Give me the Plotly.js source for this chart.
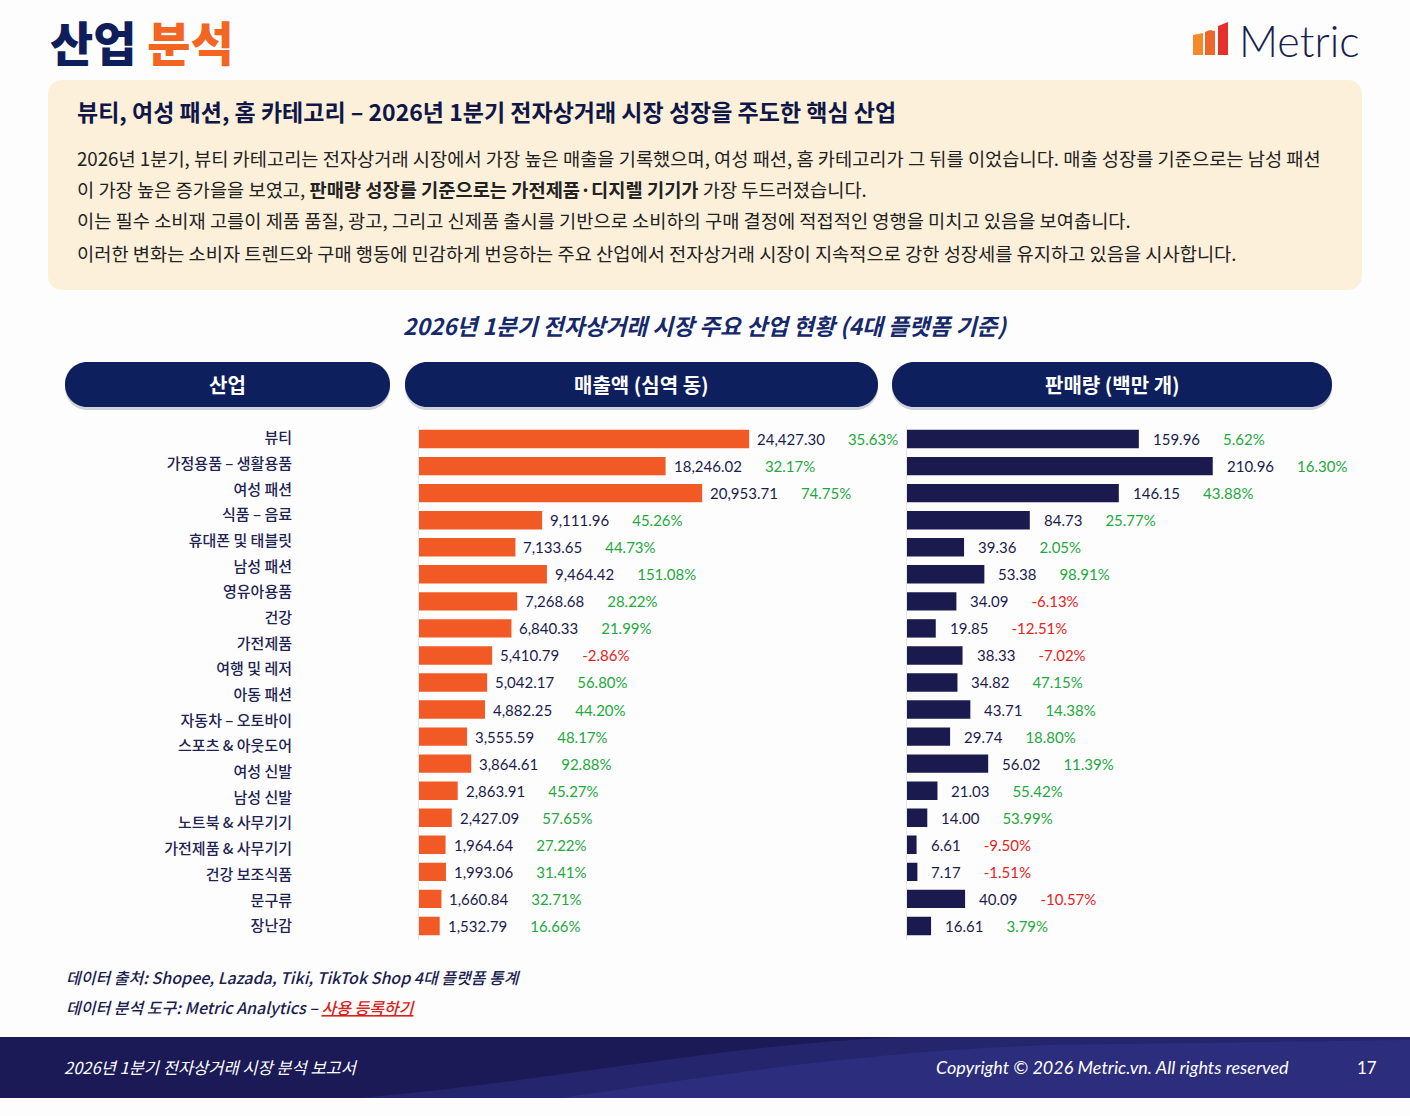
<!DOCTYPE html>
<html>
<head>
<meta charset="utf-8">
<script src="https://cdn.plot.ly/plotly-3.0.1.min.js"></script>
<style>
  html, body { margin: 0; padding: 0; background: #fdfdfd; }
  #chart { width: 1410px; height: 1116px; }
</style>
</head>
<body>
<div id="chart"></div>
<script>
// ---- data ----
const industries = [
  '뷰티', '가정용품 – 생활용품', '여성 패션', '식품 – 음료', '휴대폰 및 태블릿',
  '남성 패션', '영유아용품', '건강', '가전제품', '여행 및 레저',
  '아동 패션', '자동차 – 오토바이', '스포츠 & 아웃도어', '여성 신발', '남성 신발',
  '노트북 & 사무기기', '가전제품 & 사무기기', '건강 보조식품', '문구류', '장난감'
];
const revenue = [24427.30, 18246.02, 20953.71, 9111.96, 7133.65, 9464.42, 7268.68, 6840.33, 5410.79, 5042.17,
                 4882.25, 3555.59, 3864.61, 2863.91, 2427.09, 1964.64, 1993.06, 1660.84, 1532.79];
const revenueGrowth = [35.63, 32.17, 74.75, 45.26, 44.73, 151.08, 28.22, 21.99, -2.86, 56.80,
                       44.20, 48.17, 92.88, 45.27, 57.65, 27.22, 31.41, 32.71, 16.66];
const volume = [159.96, 210.96, 146.15, 84.73, 39.36, 53.38, 34.09, 19.85, 38.33, 34.82,
                43.71, 29.74, 56.02, 21.03, 14.00, 6.61, 7.17, 40.09, 16.61];
const volumeGrowth = [5.62, 16.30, 43.88, 25.77, 2.05, 98.91, -6.13, -12.51, -7.02, 47.15,
                      14.38, 18.80, 11.39, 55.42, 53.99, -9.50, -1.51, -10.57, 3.79];
const columnHeaders = ['산업', '매출액 (심역 동)', '판매량 (백만 개)'];
const summaryTitle = '뷰티, 여성 패션, 홈 카테고리 – 2026년 1분기 전자상거래 시장 성장을 주도한 핵심 산업';
const summaryLines = [
  '2026년 1분기, 뷰티 카테고리는 전자상거래 시장에서 가장 높은 매출을 기록했으며, 여성 패션, 홈 카테고리가 그 뒤를 이었습니다. 매출 성장를 기준으로는 남성 패션',
  '이 가장 높은 증가을을 보였고, <b>판매량 성장를 기준으로는 가전제품·디지렐 기기가</b> 가장 두드러졌습니다.',
  '이는 필수 소비재 고를이 제품 품질, 광고, 그리고 신제품 출시를 기반으로 소비하의 구매 결정에 적접적인 영행을 미치고 있음을 보여춥니다.',
  '이러한 변화는 소비자 트렌드와 구매 행동에 민감하게 번응하는 주요 산업에서 전자상거래 시장이 지속적으로 강한 성장세를 유지하고 있음을 시사합니다.'
];
const chartTitle = '2026년 1분기 전자상거래 시장 주요 산업 현황 (4대 플랫폼 기준)';

// ---- page geometry helpers (pixel -> paper) ----
const W = 1410, H = 1116;
const px = x => x / W;
const py = y => 1 - y / H;
const P = (x, y) => `${px(x).toFixed(5)},${py(y).toFixed(5)}`;

function roundRect(x0, y0, x1, y1, r) {
  const k = 0.5523 * r;
  return `M${P(x0 + r, y0)} L${P(x1 - r, y0)} C${P(x1 - r + k, y0)} ${P(x1, y0 + r - k)} ${P(x1, y0 + r)} ` +
         `L${P(x1, y1 - r)} C${P(x1, y1 - r + k)} ${P(x1 - r + k, y1)} ${P(x1 - r, y1)} ` +
         `L${P(x0 + r, y1)} C${P(x0 + r - k, y1)} ${P(x0, y1 - r + k)} ${P(x0, y1 - r)} ` +
         `L${P(x0, y0 + r)} C${P(x0, y0 + r - k)} ${P(x0 + r - k, y0)} ${P(x0 + r, y0)} Z`;
}
function pathShape(path, fill, extra) {
  return Object.assign({ type: 'path', xref: 'paper', yref: 'paper', path, fillcolor: fill, line: { width: 0 }, layer: 'below' }, extra || {});
}
function note(x, y, text, font, anchor) {
  return { xref: 'paper', yref: 'paper', x: px(x), y: py(y), text, showarrow: false,
           xanchor: anchor || 'left', yanchor: 'middle', font, borderpad: 0 };
}

const KR = 'Noto Sans CJK KR, Noto Sans, sans-serif';
const NUM = 'Lato, Noto Sans CJK KR, sans-serif';
const NAVY = '#0d1f5c';
const GREEN = '#1fa83d';
const RED = '#e8221c';
const GAP = '\u00a0'.repeat(6);

const fmtRevenue = v => v.toLocaleString('en-US', { minimumFractionDigits: 2, maximumFractionDigits: 2 });
const fmtVolume = v => v.toFixed(2);
const pctSpan = g => `<span style="color:${g >= 0 ? GREEN : RED}">${g.toFixed(2)}%</span>`;

const rowIndex = revenue.map((_, i) => i);

// ---- traces ----
const traces = [
  {
    type: 'bar', orientation: 'h', x: revenue, y: rowIndex, xaxis: 'x', yaxis: 'y',
    marker: { color: '#f15a24' }, hoverinfo: 'skip'
  },
  {
    type: 'bar', orientation: 'h', x: volume, y: rowIndex, xaxis: 'x2', yaxis: 'y2',
    marker: { color: '#1b1a4f' }, hoverinfo: 'skip'
  },
  { type: 'scatter', x: [], y: [], xaxis: 'x3', yaxis: 'y3', hoverinfo: 'skip' }
];

// ---- shapes ----
const shapes = [];
// summary box
shapes.push(pathShape(roundRect(48, 80, 1362, 290, 14), '#fdf0db'));
// column header pills
const pills = [[65, 390], [405, 878], [892, 1332]];
pills.forEach(([a, b]) => {
  shapes.push(pathShape(roundRect(a, 364, b, 410, 22), 'rgba(10,20,60,0.18)'));
  shapes.push(pathShape(roundRect(a, 362, b, 407, 22), NAVY));
});
// logo bars
shapes.push(pathShape(`M${P(1193, 55)} L${P(1193, 35)} L${P(1203, 33)} L${P(1203, 55)} Z`, '#f4892b'));
shapes.push(pathShape(`M${P(1205, 55)} L${P(1205, 32)} L${P(1210, 30)} L${P(1215, 31)} L${P(1215, 55)} Z`, '#ef662b'));
shapes.push(pathShape(`M${P(1218, 55)} L${P(1218, 26)} L${P(1228, 22)} L${P(1228, 55)} Z`, '#e5312d'));
// footer band
shapes.push({ type: 'rect', xref: 'paper', yref: 'paper', x0: 0, x1: 1, y0: py(1098), y1: py(1037),
              fillcolor: '#1b1a57', line: { width: 0 }, layer: 'below' });
shapes.push(pathShape(`M${P(360, 1098)} C${P(560, 1080)} ${P(720, 1045)} ${P(900, 1037)} L${P(1410, 1037)} L${P(1410, 1098)} Z`,
                      'rgba(52,52,140,0.45)'));
shapes.push(pathShape(`M${P(560, 1098)} C${P(720, 1075)} ${P(860, 1052)} ${P(1050, 1045)} L${P(1410, 1040)} L${P(1410, 1098)} Z`,
                      'rgba(70,70,170,0.25)'));

// ---- annotations ----
const annotations = [];
annotations.push(note(49, 40, `<span style="color:#0e1e5b">산업</span> <span style="color:#f26522">분석</span>`,
                      { family: KR, size: 47, weight: 800 }));
annotations.push(note(1238, 40, 'Metric', { family: 'Lato, sans-serif', size: 43, color: '#1b1f4f', weight: 300 }));
annotations.push(note(76, 111, summaryTitle, { family: KR, size: 23, weight: 700, color: '#0f1747' }));
const lineY = [157, 188, 220, 252];
summaryLines.forEach((t, i) => annotations.push(note(76, lineY[i], t, { family: KR, size: 18.7, color: '#222222' })));
annotations.push(note(705, 325, chartTitle, { family: KR, size: 22.7, weight: 700, style: 'italic', color: '#15296b' }, 'center'));
pills.forEach(([a, b], i) => annotations.push(note((a + b) / 2, 384, columnHeaders[i],
                      { family: KR, size: 20, weight: 700, color: '#ffffff' }, 'center')));

revenue.forEach((v, i) => annotations.push({
  xref: 'x', yref: 'y', x: v, y: i, xanchor: 'left', yanchor: 'middle', xshift: 6, showarrow: false,
  text: fmtRevenue(v) + GAP + pctSpan(revenueGrowth[i]),
  font: { family: NUM, size: 15, color: '#1b1c4d' }
}));
volume.forEach((v, i) => annotations.push({
  xref: 'x2', yref: 'y2', x: v, y: i, xanchor: 'left', yanchor: 'middle', xshift: 12, showarrow: false,
  text: fmtVolume(v) + GAP + pctSpan(volumeGrowth[i]),
  font: { family: NUM, size: 15, color: '#1b1c4d' }
}));

annotations.push(note(65, 977, '데이터 출처: Shopee, Lazada, Tiki, TikTok Shop 4대 플랫폼 통계',
                      { family: KR, size: 16, style: 'italic', weight: 500, color: '#1b1d4f' }));
annotations.push(note(65, 1007, '데이터 분석 도구: Metric Analytics – <span style="color:#d8221c;text-decoration:underline">사용 등록하기</span>',
                      { family: KR, size: 16, style: 'italic', weight: 500, color: '#1b1d4f' }));
annotations.push(note(63, 1067, '2026년 1분기 전자상거래 시장 분석 보고서',
                      { family: KR, size: 16.5, style: 'italic', color: '#ffffff' }));
annotations.push(note(1290, 1067, 'Copyright © 2026 Metric.vn. All rights reserved',
                      { family: 'Lato, sans-serif', size: 18, style: 'italic', color: '#ffffff' }, 'right'));
annotations.push(note(1378, 1067, '17', { family: 'Lato, sans-serif', size: 17, color: '#ffffff' }, 'right'));

// ---- axes ----
const hiddenX = { showgrid: false, zeroline: false, showticklabels: false, showline: false, ticks: '', fixedrange: true };
const barY = {
  domain: [py(939.5), py(425.5)], range: [18.5, -0.5], showgrid: false, zeroline: false,
  showticklabels: false, ticks: '', showline: true, linecolor: '#e6e6e6', linewidth: 1, fixedrange: true
};

const layout = {
  width: W, height: H,
  margin: { l: 0, r: 0, t: 0, b: 0 },
  paper_bgcolor: '#fdfdfd', plot_bgcolor: 'rgba(0,0,0,0)',
  showlegend: false, bargap: 0.32,
  xaxis: Object.assign({ domain: [px(419), px(878.5)], range: [0, 34000], anchor: 'y' }, hiddenX),
  yaxis: Object.assign({ anchor: 'x' }, barY),
  xaxis2: Object.assign({ domain: [px(907), px(1341.8)], range: [0, 300], anchor: 'y2' }, hiddenX),
  yaxis2: Object.assign({ anchor: 'x2' }, barY),
  xaxis3: { domain: [px(293), px(300)], range: [0, 1], visible: false, anchor: 'y3', fixedrange: true },
  yaxis3: {
    domain: [py(938.8), py(425.2)], anchor: 'x3', range: [19.5, -0.5],
    tickmode: 'array', tickvals: industries.map((_, i) => i), ticktext: industries,
    showgrid: false, zeroline: false, showline: false, ticks: '', fixedrange: true,
    tickfont: { family: KR, size: 15, color: '#1e2352', weight: 500 }
  },
  shapes, annotations
};

Plotly.newPlot('chart', traces, layout, { displayModeBar: false, staticPlot: true });
</script>
</body>
</html>
